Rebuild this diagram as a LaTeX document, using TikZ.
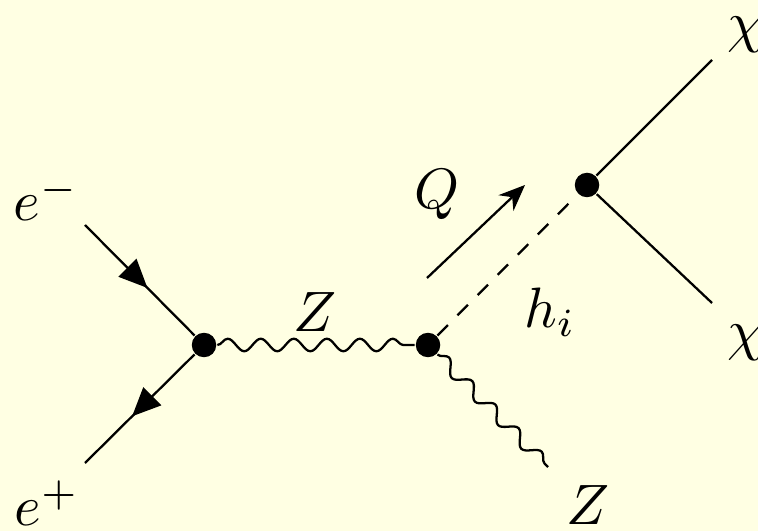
\documentclass[tikz,border=0pt]{standalone}
\usepackage{xcolor}
\usepackage{tikz}
\usetikzlibrary{arrows.meta,decorations.pathmorphing,decorations.markings}
\definecolor{paper}{HTML}{FFFFE3}
\definecolor{ink}{HTML}{000000}
\tikzset{
  vtx/.style={circle,fill=ink,inner sep=0pt,minimum size=4.3pt},
  fermion/.style={draw=ink,postaction={decorate},decoration={markings,mark=at position 0.57 with {\arrow{Triangle[length=5pt,width=4.4pt]}}}},
  boson/.style={draw=ink,decorate,decoration={snake,segment length=5.8pt,amplitude=1.1pt}},
  scalar/.style={draw=ink,dash pattern=on 2.6pt off 2.4pt},
  mom/.style={draw=ink,-{Stealth[length=4.6pt,width=3.8pt]}},
  lab/.style={text=ink,inner sep=1pt},
}
\begin{document}
\begin{tikzpicture}[x=0.617cm,y=0.617cm]
  \fill[paper] (0,0) rectangle (7.58,5.31);
  \useasboundingbox (0,0) rectangle (7.58,5.31);
  % vertices
  \node[vtx] (v1) at (2.04,1.86) {};
  \node[vtx] (v2) at (4.28,1.86) {};
  \node[vtx] (v3) at (5.87,3.46) {};
  % free ends
  \coordinate (ein) at (0.85,3.06);
  \coordinate (pout) at (0.85,0.68);
  \coordinate (zout) at (5.48,0.64);
  \coordinate (xa) at (7.12,4.71);
  \coordinate (xb) at (7.12,2.28);
  \coordinate (qa) at (4.27,2.53);
  \coordinate (qb) at (5.25,3.46);
  % lines
  \draw[fermion] (ein) -- (v1);
  \draw[fermion] (v1) -- (pout);
  \draw[boson] (v1) -- (v2);
  \draw[boson] (v2) -- (zout);
  \draw[scalar] (v2) -- (v3);
  \draw[ink] (v3) -- (xa);
  \draw[ink] (v3) -- (xb);
  \draw[mom] (qa) -- (qb);
  % labels
  \node[lab] (lem) at (0.46,3.33) {$e^-$};
  \node[lab] (lep) at (0.47,0.28) {$e^+$};
  \node[lab] (lz1) at (3.15,2.19) {$Z$};
  \node[lab] (lz2) at (5.88,0.26) {$Z$};
  \node[lab] (lq) at (4.37,3.36) {$Q$};
  \node[lab] (lh) at (5.50,2.19) {$h_i$};
  \node[lab] (lxa) at (7.45,4.96) {$\chi$};
  \node[lab] (lxb) at (7.45,1.88) {$\chi$};
\end{tikzpicture}
\end{document}
